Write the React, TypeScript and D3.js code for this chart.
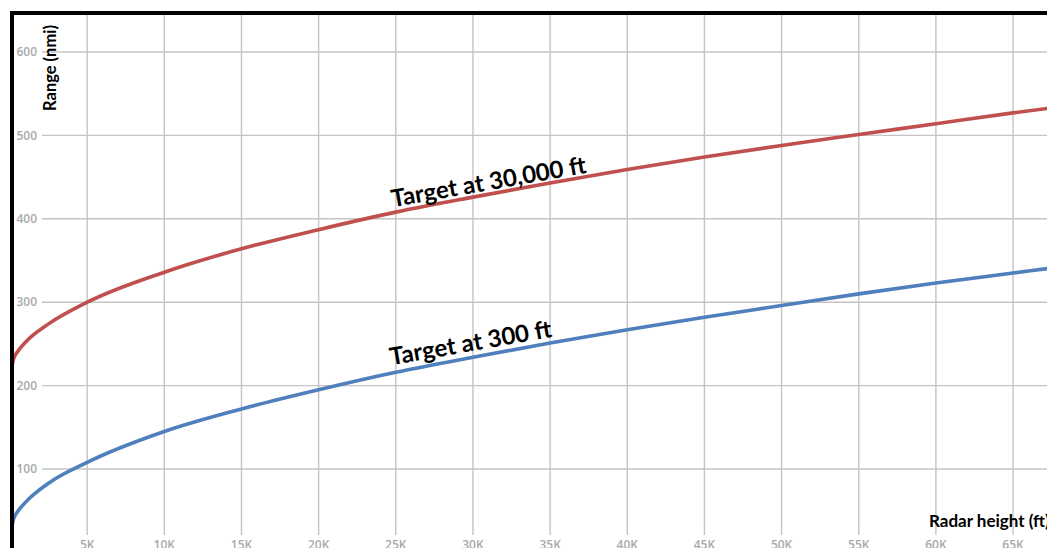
// @ts-nocheck
import React, { useEffect, useRef } from 'react'
import * as d3 from 'd3'

const radarHeight = [0, 250, 500, 1000, 2500, 5000, 10000, 15000, 20000, 25000, 30000, 35000, 40000, 45000, 50000, 55000, 60000, 65000, 67500]
// range (nmi) for a target at 300 ft
const rangeLow = [21, 41, 49, 60, 83, 108, 145, 172, 195, 216, 234, 251, 267, 282, 296, 310, 323, 335, 341]
// range (nmi) for a target at 30,000 ft
const rangeHigh = [213, 233, 241, 252, 274, 300, 336, 364, 387, 408, 426, 443, 459, 474, 488, 501, 514, 527, 533]

const xTicks = [5000, 10000, 15000, 20000, 25000, 30000, 35000, 40000, 45000, 50000, 55000, 60000, 65000]
const xTickLabels = ['5K', '10K', '15K', '20K', '25K', '30K', '35K', '40K', '45K', '50K', '55K', '60K', '65K']
const yTicks = [100, 200, 300, 400, 500, 600]

const seriesNames = ['Target at 300 ft', 'Target at 30,000 ft']

const Chart = () => {
    const ref = useRef(null)

    useEffect(() => {
        const width = 1047,
            height = 548

        const x = d3.scaleLinear([0, 67200], [10, width])
        const y = d3.scaleLinear([0, 600], [552.4, 52])

        const svg = d3.select(ref.current)
        svg.selectAll('*').remove()

        svg.append('rect').attr('width', width).attr('height', height).attr('fill', '#fff')

        svg.append('clipPath').attr('id', 'plot')
            .append('rect').attr('x', 12).attr('y', 13).attr('width', width).attr('height', height)

        const grid = svg.append('g').attr('stroke', '#c4c4c4').attr('stroke-width', 1.4)

        // vertical gridlines
        grid.selectAll('line.v')
            .data(xTicks)
            .join('line')
            .attr('class', 'v')
            .attr('x1', d => x(d)).attr('x2', d => x(d))
            .attr('y1', 13).attr('y2', 535)

        // horizontal gridlines
        grid.selectAll('line.h')
            .data(yTicks)
            .join('line')
            .attr('class', 'h')
            .attr('x1', 42).attr('x2', width)
            .attr('y1', d => y(d)).attr('y2', d => y(d))

        // y tick labels
        svg.append('g')
            .selectAll('text')
            .data(yTicks)
            .join('text')
            .attr('x', 37)
            .attr('y', d => y(d))
            .attr('dy', '0.35em')
            .attr('text-anchor', 'end')
            .attr('font-family', 'Open Sans')
            .attr('font-weight', 600)
            .attr('font-size', 12)
            .attr('fill', '#a9a9a9')
            .text(d => d)

        // x tick labels (cut by the bottom edge, as in the original)
        svg.append('g')
            .selectAll('text')
            .data(xTicks)
            .join('text')
            .attr('x', d => x(d))
            .attr('y', 549)
            .attr('text-anchor', 'middle')
            .attr('font-family', 'Open Sans')
            .attr('font-weight', 600)
            .attr('font-size', 12)
            .attr('fill', '#a9a9a9')
            .text((d, i) => xTickLabels[i])

        const line = d3.line()
            .x((d, i) => x(radarHeight[i]))
            .y(d => y(d))
            .curve(d3.curveMonotoneX)

        const curves = svg.append('g').attr('clip-path', 'url(#plot)')

        curves.append('path')
            .attr('fill', 'none')
            .attr('stroke', '#c0504d')
            .attr('stroke-width', 3.6)
            .attr('d', line(rangeHigh))

        curves.append('path')
            .attr('fill', 'none')
            .attr('stroke', '#4f7fbd')
            .attr('stroke-width', 3.6)
            .attr('d', line(rangeLow))

        // series labels
        svg.append('text')
            .attr('transform', 'translate(490,190) rotate(-10)')
            .attr('text-anchor', 'middle')
            .attr('font-family', 'Lato')
            .attr('font-weight', 700)
            .attr('font-size', 24)
            .attr('fill', '#000')
            .text(seriesNames[1])

        svg.append('text')
            .attr('transform', 'translate(472,351) rotate(-10)')
            .attr('text-anchor', 'middle')
            .attr('font-family', 'Lato')
            .attr('font-weight', 700)
            .attr('font-size', 24)
            .attr('fill', '#000')
            .text(seriesNames[0])

        // axis titles
        svg.append('text')
            .attr('transform', 'translate(56,68) rotate(-90)')
            .attr('text-anchor', 'middle')
            .attr('font-family', 'Lato')
            .attr('font-weight', 700)
            .attr('font-size', 16.5)
            .attr('fill', '#000')
            .text('Range (nmi)')

        svg.append('text')
            .attr('x', 929)
            .attr('y', 527)
            .attr('font-family', 'Lato')
            .attr('font-weight', 700)
            .attr('font-size', 17)
            .attr('fill', '#000')
            .text('Radar height (ft)')

        // frame (top and left)
        svg.append('path')
            .attr('fill', 'none')
            .attr('stroke', '#000')
            .attr('stroke-width', 4)
            .attr('d', `M12,${height} V13 H${width}`)
    }, [])

    return <svg ref={ref} width='1047' height='548' style={{ display: 'block' }}></svg>
}

export default function App() {
    return <div style={{ position: 'absolute', left: 0, top: 0 }}>
        <Chart />
    </div>
}
